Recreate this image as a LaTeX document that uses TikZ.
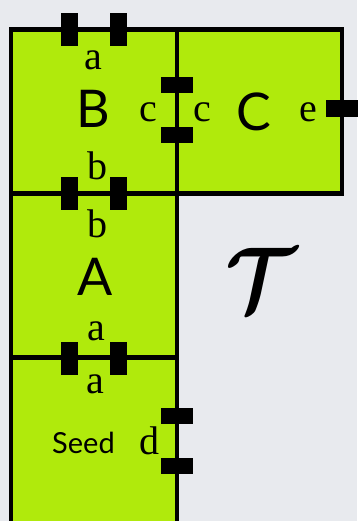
\RequirePackage{fix-cm}
\documentclass[tikz,border=0pt]{standalone}
\usepackage{fontspec}
\setmainfont{Liberation Serif}
\newfontfamily\labelsans{Lato}
\definecolor{tilegreen}{RGB}{176,234,12}
\definecolor{bggrey}{RGB}{232,234,238}
\tikzset{
  tile/.style={draw=black, fill=tilegreen, line width=4.8pt, inner sep=0pt, outer sep=0pt,
    minimum width=166pt, minimum height=164pt, anchor=center},
  vport/.style={fill=black, minimum width=17pt, minimum height=33pt, inner sep=0pt, outer sep=0pt},
  hport/.style={fill=black, minimum width=32pt, minimum height=16pt, inner sep=0pt, outer sep=0pt},
  glue/.style={font=\fontsize{40}{40}\selectfont, inner sep=0pt, anchor=base},
  tname/.style={font=\labelsans\fontsize{52}{52}\selectfont, inner sep=0pt, anchor=base},
}
\begin{document}
\begin{tikzpicture}[x=1pt, y=-1pt]
  \useasboundingbox (0,0) rectangle (357,521);
  \fill[bggrey] (0,0) rectangle (357,521);
  % tiles
  \node[tile] (B) at (94,111.5) {};
  \node[tile, minimum width=165pt] (C) at (259.5,111.5) {};
  \node[tile] (A) at (94,275.5) {};
  \node[tile, minimum height=180pt] (Seed) at (94,447.5) {};
  % ports
  \node[vport] (pBa1) at (69.5,29.5) {};
  \node[vport] (pBa2) at (118.5,29.5) {};
  \node[vport] (pAB1) at (69.5,193.5) {};
  \node[vport] (pAB2) at (118.5,193.5) {};
  \node[vport] (pSA1) at (69.5,358) {};
  \node[vport] (pSA2) at (118.5,358) {};
  \node[hport] (pBC1) at (177,85) {};
  \node[hport] (pBC2) at (177,135) {};
  \node[hport, minimum height=17pt] (pCe) at (342,108.5) {};
  \node[hport] (pSd1) at (177,416) {};
  \node[hport] (pSd2) at (177,466) {};
  % tile names
  \node[tname] (tB) at (93.5,128) {B};
  \node[tname] (tC) at (253.5,131) {C};
  \node[tname] (tA) at (95.5,295) {A};
  \node[tname, font=\labelsans\fontsize{29}{29}\selectfont] (tS) at (83.5,453) {Seed};
  % glue labels
  \node[glue] (lBa) at (93,70) {a};
  \node[glue] (lBb) at (97,180) {b};
  \node[glue] (lBc) at (148.5,122) {c};
  \node[glue] (lCc) at (202,122) {c};
  \node[glue] (lCe) at (308,122) {e};
  \node[glue] (lAb) at (97,237) {b};
  \node[glue] (lAa) at (96,340) {a};
  \node[glue] (lSa) at (95.5,393) {a};
  \node[glue] (lSd) at (149,454) {d};
  % T
  \node[inner sep=0pt, anchor=base, font=\fontsize{92}{92}\selectfont] (T) at (261,311) {\scalebox{0.85}[1]{\boldmath$\mathcal{T}$}};
\end{tikzpicture}
\end{document}
